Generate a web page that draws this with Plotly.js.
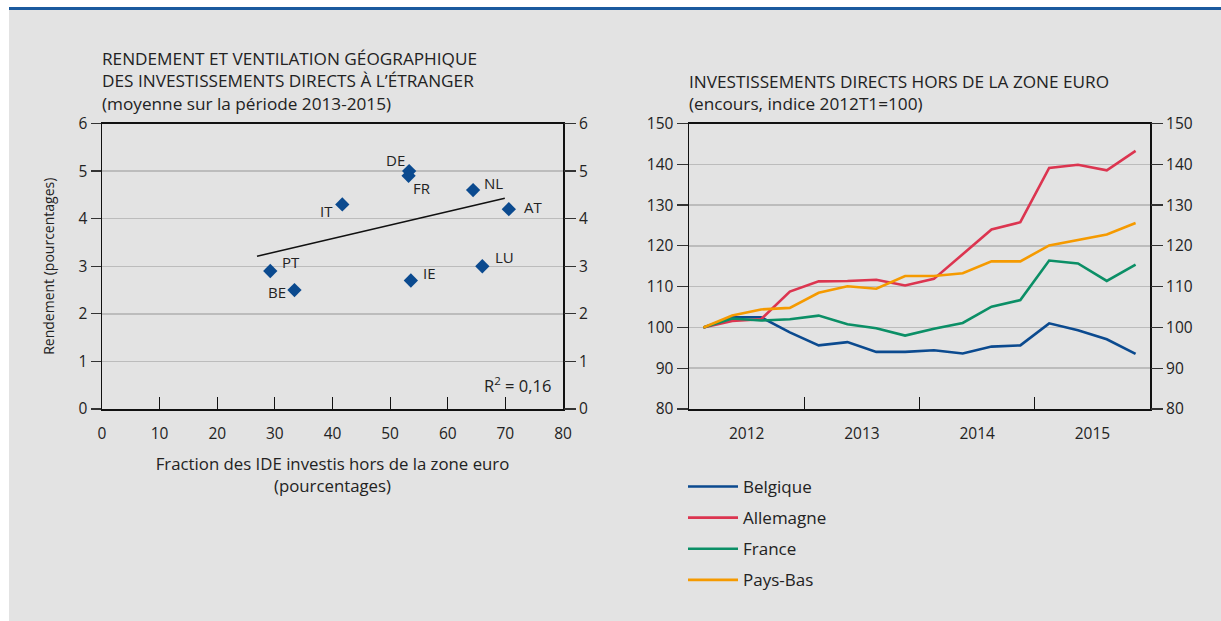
<!DOCTYPE html>
<html><head><meta charset="utf-8">
<script src="https://cdn.plot.ly/plotly-3.0.1.min.js"></script>
<style>html,body{margin:0;padding:0;background:#fff;} #chart{width:1221px;height:621px;}</style>
</head><body><div id="chart"></div>
<script>
// Left chart: return vs share of FDI outside euro area
const countries = ['DE', 'FR', 'NL', 'IT', 'AT', 'PT', 'BE', 'IE', 'LU'];
const shareOutside = [53.3, 53.2, 64.4, 41.7, 70.6, 29.2, 33.4, 53.6, 66.0];
const returnPct = [5.0, 4.9, 4.6, 4.3, 4.2, 2.9, 2.5, 2.7, 3.0];
const trendX = [26.9, 69.9];
const trendY = [3.21, 4.43];
const r2Label = 'R<sup>2</sup> = 0,16';
const leftTitle = ['RENDEMENT ET VENTILATION GÉOGRAPHIQUE', 'DES INVESTISSEMENTS DIRECTS À L’ÉTRANGER', '(moyenne sur la période 2013-2015)'];

// Right chart: FDI stocks outside euro area, index 2012T1=100
const quarters = ['2012T1','2012T2','2012T3','2012T4','2013T1','2013T2','2013T3','2013T4',
                  '2014T1','2014T2','2014T3','2014T4','2015T1','2015T2','2015T3','2015T4'];
const years = ['2012', '2013', '2014', '2015'];
const seriesNames = ['Belgique', 'Allemagne', 'France', 'Pays-Bas'];
const belgique  = [100, 102.5, 102.5, 98.8, 95.6, 96.4, 94.0, 94.0, 94.4, 93.6, 95.3, 95.6, 101.0, 99.3, 97.1, 93.5];
const allemagne = [100, 101.6, 102.0, 108.8, 111.3, 111.4, 111.7, 110.3, 111.9, 118.0, 124.0, 125.8, 139.1, 139.9, 138.5, 143.3];
const france    = [100, 102.2, 101.7, 102.0, 102.9, 100.8, 99.8, 98.0, 99.7, 101.1, 105.1, 106.7, 116.4, 115.7, 111.4, 115.4];
const paysBas   = [100, 102.9, 104.4, 104.8, 108.5, 110.1, 109.5, 112.6, 112.6, 113.3, 116.2, 116.2, 120.1, 121.4, 122.8, 125.6];
const rightTitle = ['INVESTISSEMENTS DIRECTS HORS DE LA ZONE EURO', '(encours, indice 2012T1=100)'];

const seriesValues = [belgique, allemagne, france, paysBas];
const seriesColors = ['#0b4a8f', '#dc3550', '#0b8f66', '#f59a00'];

// label offsets (style)
const labelShift = {
  DE: [-14, 11], FR: [13, -12], NL: [20, 7], IT: [-16, -7], AT: [24, 2],
  PT: [21, 9], BE: [-17, -2], IE: [19, 8], LU: [22, 9]
};

const W = 1221, H = 621;
const txt = '#222222';
const FONT = 'Open Sans, Noto Sans, sans-serif';
const grid = '#bcbcbc';

const qIndex = quarters.map((q, i) => i);

const traces = [];
traces.push({
  type: 'scatter', mode: 'lines', x: trendX, y: trendY, xaxis: 'x', yaxis: 'y',
  line: {color: '#111', width: 1.5}, showlegend: false, hoverinfo: 'skip'
});
traces.push({
  type: 'scatter', mode: 'markers', x: shareOutside, y: returnPct, text: countries,
  xaxis: 'x', yaxis: 'y', showlegend: false,
  marker: {symbol: 'diamond', size: 11, color: '#0b4a8f'}
});
traces.push({type: 'scatter', mode: 'lines', x: [null], y: [null], xaxis: 'x', yaxis: 'y2', showlegend: false, hoverinfo: 'skip'});
seriesNames.forEach((name, k) => {
  traces.push({
    type: 'scatter', mode: 'lines', name: name, x: qIndex, y: seriesValues[k],
    xaxis: 'x2', yaxis: 'y3', legendgroup: 'g' + k,
    line: {color: seriesColors[k], width: 2.6}
  });
});
traces.push({type: 'scatter', mode: 'lines', x: [null], y: [null], xaxis: 'x2', yaxis: 'y4', showlegend: false, hoverinfo: 'skip'});

const px = v => v / W;
const py = v => 1 - v / H;

const annotations = [];
countries.forEach((c, i) => {
  annotations.push({
    text: c, x: shareOutside[i], y: returnPct[i], xref: 'x', yref: 'y',
    showarrow: false, xshift: labelShift[c][0], yshift: labelShift[c][1],
    font: {family: FONT, size: 15, color: txt}
  });
});
annotations.push({
  text: r2Label, xref: 'x domain', yref: 'y domain', x: 1, y: 0.085,
  xanchor: 'right', yanchor: 'middle', xshift: -10, showarrow: false,
  font: {family: FONT, size: 16.5, color: txt}
});
annotations.push({
  text: leftTitle.join('<br>'), xref: 'paper', yref: 'paper', x: px(100), y: py(81), xanchor: 'left', yanchor: 'middle',
  align: 'left', showarrow: false, font: {family: FONT, size: 17.2, color: txt}
});
annotations.push({
  text: rightTitle.join('<br>'), xref: 'paper', yref: 'paper', x: px(687), y: py(92), xanchor: 'left', yanchor: 'middle',
  align: 'left', showarrow: false, font: {family: FONT, size: 17.2, color: txt}
});

const shapes = [
  {type: 'rect', xref: 'paper', yref: 'paper', x0: px(9), x1: 1, y0: 0, y1: py(10),
   fillcolor: '#e3e3e3', line: {width: 0}, layer: 'below'},
  {type: 'rect', xref: 'paper', yref: 'paper', x0: px(9), x1: 1, y0: py(10), y1: py(7),
   fillcolor: '#1b5a9e', line: {width: 0}, layer: 'below'}
];

const tickFont = {family: FONT, size: 15.5, color: txt};
const domY = [py(409), py(123.5)];

const layout = {
  width: W, height: H,
  margin: {l: 0, r: 0, t: 0, b: 0},
  paper_bgcolor: '#ffffff', plot_bgcolor: '#ffffff',
  font: {family: FONT, color: txt},
  showlegend: true,
  legend: {
    x: px(683), y: py(469), xanchor: 'left', yanchor: 'top',
    bgcolor: 'rgba(0,0,0,0)', font: {family: FONT, size: 17, color: txt},
    tracegroupgap: 6, itemwidth: 50, traceorder: 'grouped'
  },
  xaxis: {
    domain: [px(102), px(563)], anchor: 'y', range: [0, 80], tickvals: [0,10,20,30,40,50,60,70,80],
    ticks: 'inside', ticklen: 12, tickwidth: 1.2, tickcolor: '#111', ticklabelstandoff: 10,
    showgrid: false, zeroline: false, showline: true, linecolor: '#111', linewidth: 1.5, mirror: true,
    tickfont: tickFont, fixedrange: true,
    title: {text: 'Fraction des IDE investis hors de la zone euro<br>(pourcentages)', font: {family: FONT, size: 16.8, color: txt}, standoff: 15}
  },
  yaxis: {
    domain: domY, anchor: 'x', range: [0, 6], tickvals: [0,1,2,3,4,5,6],
    ticks: 'outside', ticklen: 10, tickwidth: 1.2, tickcolor: '#333',
    showgrid: true, gridcolor: grid, gridwidth: 1.5, zeroline: false,
    showline: true, linecolor: '#111', linewidth: 1.5, mirror: true,
    tickfont: tickFont, fixedrange: true,
    title: {text: 'Rendement (pourcentages)', font: {family: FONT, size: 14, color: txt}, standoff: 20}
  },
  yaxis2: {
    overlaying: 'y', side: 'right', anchor: 'x', range: [0, 6], tickvals: [0,1,2,3,4,5,6],
    ticks: 'outside', ticklen: 12, tickwidth: 1.2, tickcolor: '#333',
    showgrid: false, zeroline: false, showline: false, tickfont: tickFont, fixedrange: true
  },
  xaxis2: {
    domain: [px(689), px(1150)], anchor: 'y3', range: [-0.5, 15.5],
    tickvals: years.map((y, i) => i * 4 + 1.5), ticktext: years,
    ticks: '', ticklabelstandoff: 10,
    minor: {tickmode: 'array', tickvals: years.slice(1).map((y, i) => (i + 1) * 4 - 0.5), ticks: 'inside', ticklen: 12, tickwidth: 1.2, tickcolor: '#111', showgrid: false},
    showgrid: false, zeroline: false, showline: true, linecolor: '#111', linewidth: 1.5, mirror: true,
    tickfont: tickFont, fixedrange: true
  },
  yaxis3: {
    domain: domY, anchor: 'x2', range: [80, 150], tickvals: [80,90,100,110,120,130,140,150],
    ticks: 'outside', ticklen: 11, tickwidth: 1.2, tickcolor: '#333',
    showgrid: true, gridcolor: grid, gridwidth: 1.5, zeroline: false,
    showline: true, linecolor: '#111', linewidth: 1.5, mirror: true,
    tickfont: tickFont, fixedrange: true
  },
  yaxis4: {
    overlaying: 'y3', side: 'right', anchor: 'x2', range: [80, 150], tickvals: [80,90,100,110,120,130,140,150],
    ticks: 'outside', ticklen: 12, tickwidth: 1.2, tickcolor: '#333',
    showgrid: false, zeroline: false, showline: false, tickfont: tickFont, fixedrange: true
  },
  annotations: annotations,
  shapes: shapes
};

Plotly.newPlot('chart', traces, layout, {displayModeBar: false, staticPlot: true});
</script>
</body></html>
